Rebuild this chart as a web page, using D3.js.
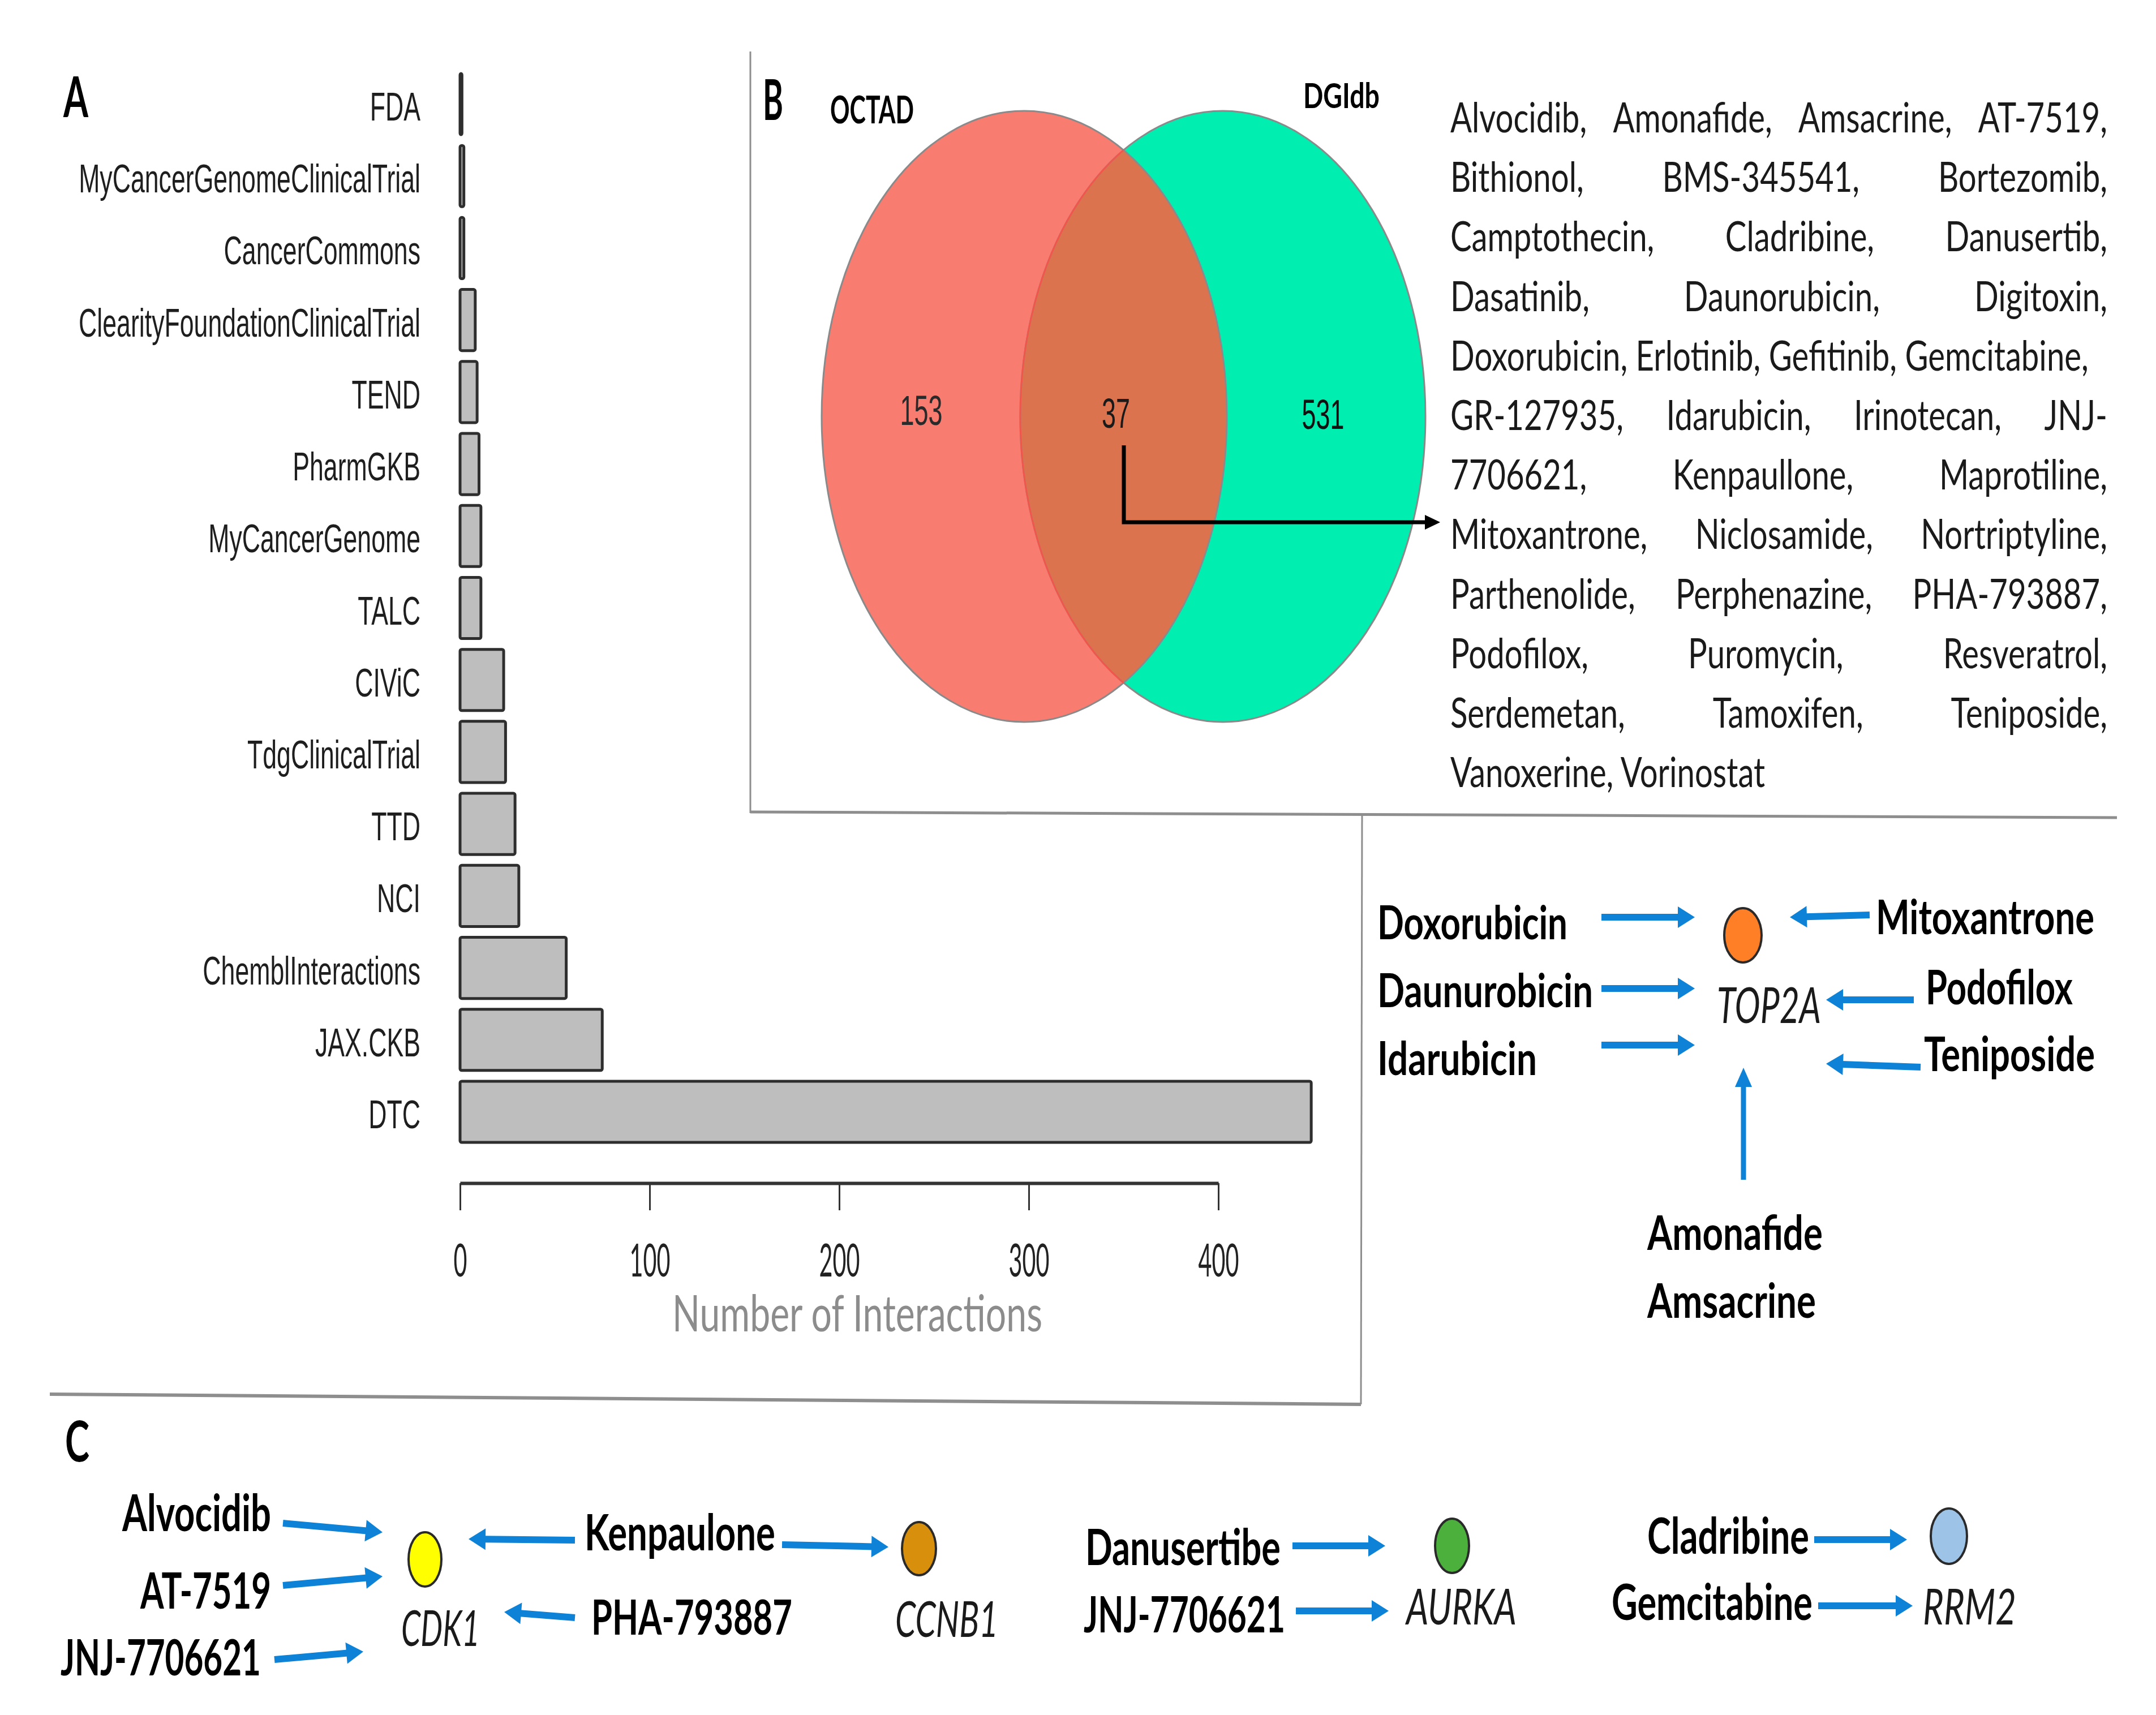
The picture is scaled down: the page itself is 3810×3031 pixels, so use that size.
<!DOCTYPE html>
<html><head><meta charset="utf-8">
<script src="https://cdn.jsdelivr.net/npm/d3@7"></script>
<style>html,body{margin:0;padding:0;background:#fff;} svg{display:block;}</style>
</head><body>
<script>
// ---------------- DATA ----------------
const sources = ["FDA","MyCancerGenomeClinicalTrial","CancerCommons","ClearityFoundationClinicalTrial","TEND","PharmGKB","MyCancerGenome","TALC","CIViC","TdgClinicalTrial","TTD","NCI","ChemblInteractions","JAX.CKB","DTC"];
const interactions = [1,2,2,8,9,10,11,11,23,24,29,31,56,75,449];
const xTicks = [0,100,200,300,400];
const axisTitle = "Number of Interactions";
const panelLetters = ["A","B","C"];
const vennSets = ["OCTAD","DGIdb"];
const vennCounts = [153,37,531]; // OCTAD only, both, DGIdb only
const sharedDrugLines = [
  "Alvocidib, Amonafide, Amsacrine, AT-7519,",
  "Bithionol, BMS-345541, Bortezomib,",
  "Camptothecin, Cladribine, Danusertib,",
  "Dasatinib, Daunorubicin, Digitoxin,",
  "Doxorubicin, Erlotinib, Gefitinib, Gemcitabine,",
  "GR-127935, Idarubicin, Irinotecan, JNJ-",
  "7706621, Kenpaullone, Maprotiline,",
  "Mitoxantrone, Niclosamide, Nortriptyline,",
  "Parthenolide, Perphenazine, PHA-793887,",
  "Podofilox, Puromycin, Resveratrol,",
  "Serdemetan, Tamoxifen, Teniposide,",
  "Vanoxerine, Vorinostat"
];
const genes = ["TOP2A","CDK1","CCNB1","AURKA","RRM2"];
const drugTargets = [
  ["Doxorubicin","TOP2A"],["Daunurobicin","TOP2A"],["Idarubicin","TOP2A"],
  ["Mitoxantrone","TOP2A"],["Podofilox","TOP2A"],["Teniposide","TOP2A"],
  ["Amonafide","TOP2A"],["Amsacrine","TOP2A"],
  ["Alvocidib","CDK1"],["AT-7519","CDK1"],["JNJ-7706621","CDK1"],
  ["Kenpaulone","CDK1"],["PHA-793887","CDK1"],["Kenpaulone","CCNB1"],
  ["Danusertibe","AURKA"],["JNJ-7706621","AURKA"],
  ["Cladribine","RRM2"],["Gemcitabine","RRM2"]
];

// ---------------- SETUP ----------------
const W = 3810, H = 3031;
const svg = d3.select("body").append("svg").attr("width", W).attr("height", H).attr("viewBox", `0 0 ${W} ${H}`);
svg.append("rect").attr("width", W).attr("height", H).attr("fill", "#fff");

const meas = svg.append("text").attr("x", -9999).attr("y", -9999);
function styleFont(sel, f) {
  return sel.style("font-family", f.family).style("font-size", f.size + "px")
    .style("font-weight", f.weight || "normal").style("font-style", f.style || "normal");
}
function measure(str, f) { styleFont(meas, f).text(str); return meas.node().getComputedTextLength(); }
function addText(g, str, x, y, f, o = {}) {
  let sx = o.sx || 1;
  if (o.width) sx = o.width / measure(str, f);
  const t = g.append("text").text(str)
    .attr("transform", `translate(${x},${y}) scale(${sx},1)`)
    .attr("text-anchor", o.anchor || "start")
    .attr("fill", o.fill || "#111");
  styleFont(t, f);
  return t;
}
const SANS = "'Liberation Sans', Arial, sans-serif";
const LATO = "Lato, 'Open Sans', sans-serif";

// ---------------- FRAME LINES ----------------
const frame = svg.append("g").attr("stroke", "#8e8e8e").attr("fill", "none");
frame.append("line").attr("x1", 1326).attr("y1", 91).attr("x2", 1326).attr("y2", 1437).attr("stroke-width", 3);
frame.append("line").attr("x1", 1326).attr("y1", 1435).attr("x2", 3741).attr("y2", 1445).attr("stroke-width", 5);
frame.append("line").attr("x1", 2407).attr("y1", 1437).attr("x2", 2405).attr("y2", 2482).attr("stroke-width", 3);
frame.append("line").attr("x1", 88).attr("y1", 2464).attr("x2", 2405).attr("y2", 2482).attr("stroke-width", 6);

// ---------------- PANEL LETTERS ----------------
const fLetter = { family: LATO, size: 100, weight: "bold" };
const letterPos = [[112, 207, 44], [1348, 212, 36], [115, 2583, 43]];
panelLetters.forEach((L, i) => addText(svg, L, letterPos[i][0], letterPos[i][1], fLetter, { width: letterPos[i][2], fill: "#000" }));

// ---------------- PANEL A : BAR CHART ----------------
const x = d3.scaleLinear().domain([0, 400]).range([813, 2153]);
const y = d3.scaleBand().domain(sources).range([120.4, 2028.6]).paddingInner(0.15).paddingOuter(0.075);
const gA = svg.append("g");
gA.selectAll("rect.bar").data(sources).join("rect").attr("class", "bar")
  .attr("x", x(0)).attr("y", d => y(d))
  .attr("width", (d, i) => x(interactions[i]) - x(0))
  .attr("height", y.bandwidth()).attr("rx", 3)
  .attr("fill", "#bebebe").attr("stroke", "#2e2e2e").attr("stroke-width", 5);

const fCat = { family: SANS, size: 71 };
const sxCat = 604 / measure("MyCancerGenomeClinicalTrial", fCat);
sources.forEach(d => addText(gA, d, 743, y(d) + y.bandwidth() / 2 + 29, fCat, { sx: sxCat, anchor: "end", fill: "#1e1e1e" }));

const axis = d3.axisBottom(x).tickValues(xTicks).tickSize(48).tickSizeOuter(0).tickFormat(d3.format("d"));
const gAx = svg.append("g").attr("transform", "translate(0,2091)").call(axis);
gAx.select(".domain").attr("stroke", "#333").attr("stroke-width", 6);
gAx.selectAll(".tick line").attr("stroke", "#333").attr("stroke-width", 3);
const fTick = { family: LATO, size: 82 };
const sxTick = 72 / measure("100", fTick);
gAx.selectAll(".tick text").attr("y", 0).attr("dy", 0)
  .attr("transform", `translate(0,165) scale(${sxTick},1)`).attr("fill", "#222")
  .style("font-family", LATO).style("font-size", "82px");
addText(svg, axisTitle, 1515, 2353, { family: LATO, size: 90 }, { width: 654, anchor: "middle", fill: "#8c8c8c" });

// ---------------- PANEL B : VENN ----------------
const gB = svg.append("g");
const vennGeo = [{ cx: 1810, cy: 736, rx: 358, ry: 540 }, { cx: 2161, cy: 736, rx: 358, ry: 540 }];
const vennFill = ["#F97C71", "#00EFB1"];
const interFill = "#DB744E";
svg.append("defs").append("clipPath").attr("id", "clipRed").append("ellipse")
  .attr("cx", vennGeo[0].cx).attr("cy", vennGeo[0].cy).attr("rx", vennGeo[0].rx).attr("ry", vennGeo[0].ry);
gB.selectAll("ellipse.set").data(vennSets).join("ellipse").attr("class", "set")
  .attr("cx", (d, i) => vennGeo[i].cx).attr("cy", (d, i) => vennGeo[i].cy)
  .attr("rx", (d, i) => vennGeo[i].rx).attr("ry", (d, i) => vennGeo[i].ry)
  .attr("fill", (d, i) => vennFill[i]);
gB.append("ellipse").attr("cx", vennGeo[1].cx).attr("cy", vennGeo[1].cy).attr("rx", vennGeo[1].rx).attr("ry", vennGeo[1].ry)
  .attr("clip-path", "url(#clipRed)").attr("fill", interFill);
gB.selectAll("ellipse.outline").data(vennSets).join("ellipse").attr("class", "outline")
  .attr("cx", (d, i) => vennGeo[i].cx).attr("cy", (d, i) => vennGeo[i].cy)
  .attr("rx", (d, i) => vennGeo[i].rx).attr("ry", (d, i) => vennGeo[i].ry)
  .attr("fill", "none").attr("stroke", "#8a8a8a").attr("stroke-width", 3);
gB.append("ellipse").attr("cx", vennGeo[1].cx).attr("cy", vennGeo[1].cy).attr("rx", vennGeo[1].rx).attr("ry", vennGeo[1].ry)
  .attr("clip-path", "url(#clipRed)").attr("fill", "none").attr("stroke", "#f2554a").attr("stroke-width", 3);

const fNum = { family: SANS, size: 74 };
const sxNum = 75 / measure("153", fNum);
const numPos = [[1628, 751, "#2a2a2a"], [1972, 756, "#1a1a1a"], [2338, 758, "#111"]];
vennCounts.forEach((c, i) => addText(gB, String(c), numPos[i][0], numPos[i][1], fNum, { sx: sxNum, anchor: "middle", fill: numPos[i][2] }));

const setLabelPos = [[1467, 218, 148, 67], [2303, 191, 135, 62]];
vennSets.forEach((s, i) => addText(gB, s, setLabelPos[i][0], setLabelPos[i][1], { family: LATO, size: setLabelPos[i][3], weight: "bold" }, { width: setLabelPos[i][2], fill: "#000" }));

gB.append("path").attr("d", "M1986,787V923H2522").attr("fill", "none").attr("stroke", "#000").attr("stroke-width", 7);
gB.append("path").attr("d", "M2545,923L2518,910L2518,936Z").attr("fill", "#000");

// shared drug list (justified)
const fList = { family: LATO, size: 74 };
const sxList = 1128 / measure(sharedDrugLines[4], fList);
const listLeft = 2563, listRight = 3724;
sharedDrugLines.forEach((line, i) => {
  const by = 234 + i * 105.2;
  const justify = !(i === 4 || i === sharedDrugLines.length - 1);
  if (!justify) { addText(gB, line, listLeft, by, fList, { sx: sxList, fill: "#1a1a1a" }); return; }
  const words = line.split(" ");
  const ws = words.map(w => measure(w, fList) * sxList);
  const gap = (listRight - listLeft - d3.sum(ws)) / (words.length - 1);
  let cx = listLeft;
  words.forEach((w, j) => { addText(gB, w, cx, by, fList, { sx: sxList, fill: "#1a1a1a" }); cx += ws[j] + gap; });
});

// ---------------- NETWORKS (TOP2A + PANEL C) ----------------
const arrowCol = "#0D82D6";
function arrow(g, a) {
  const [x1, y1, x2, y2] = a.c;
  const hl = a.hl || 30, hw = a.hw || 38, sw = a.sw || 12;
  const dx = x2 - x1, dy = y2 - y1, L = Math.hypot(dx, dy), ux = dx / L, uy = dy / L, px = -uy, py = ux;
  const bx = x2 - ux * hl, by = y2 - uy * hl;
  g.append("line").attr("x1", x1).attr("y1", y1).attr("x2", bx + ux * 2).attr("y2", by + uy * 2)
    .attr("stroke", arrowCol).attr("stroke-width", sw);
  g.append("path").attr("d", `M${x2},${y2}L${bx + px * hw / 2},${by + py * hw / 2}L${bx - px * hw / 2},${by - py * hw / 2}Z`).attr("fill", arrowCol);
}
// layout per edge: arrow coords and label placement
const edgeLayout = [
  { c: [2830, 1621, 2995, 1621], l: [2434, 1660, 336, "start", 82] },
  { c: [2830, 1747, 2995, 1747], l: [2434, 1780, 381, "start", 82] },
  { c: [2830, 1847, 2995, 1847], l: [2434, 1900, 282, "start", 82] },
  { c: [3304, 1617, 3163, 1621], l: [3315, 1651, 386, "start", 84] },
  { c: [3382, 1767, 3227, 1767], l: [3403, 1775, 260, "start", 84] },
  { c: [3394, 1886, 3227, 1880], l: [3400, 1893, 302, "start", 84] },
  { c: [3081, 2085, 3081, 1887], hl: 34, hw: 30, sw: 9, l: [2911, 2209, 310, "start", 85] },
  { c: null, l: [2911, 2329, 298, "start", 85] },
  { c: [500, 2692, 676, 2708], l: [479, 2706, 263, "end", 90] },
  { c: [500, 2802, 676, 2786], l: [479, 2843, 231, "end", 88] },
  { c: [485, 2933, 642, 2919], l: [107, 2961, 354, "start", 88] },
  { c: [1016, 2722, 828, 2720], l: [1033, 2740, 337, "start", 88] },
  { c: [1016, 2859, 891, 2849], l: [1045, 2889, 355, "start", 86] },
  { c: [1382, 2730, 1570, 2734], l: null },
  { c: [2284, 2732, 2448, 2732], l: [1918, 2766, 345, "start", 88] },
  { c: [2290, 2847, 2454, 2847], l: [1915, 2885, 356, "start", 88] },
  { c: [3206, 2721, 3370, 2721], l: [2911, 2746, 286, "start", 88] },
  { c: [3213, 2838, 3380, 2838], l: [2848, 2863, 355, "start", 88] }
];
const geneLayout = {
  TOP2A: { cx: 3080, cy: 1653, rx: 33, ry: 48, fill: "#FF7F27", lx: 3034, ly: 1808, lw: 184 },
  CDK1:  { cx: 751, cy: 2756, rx: 29, ry: 48, fill: "#FFFF00", lx: 709, ly: 2909, lw: 139 },
  CCNB1: { cx: 1624, cy: 2737, rx: 30, ry: 47, fill: "#D8900C", lx: 1582, ly: 2893, lw: 182 },
  AURKA: { cx: 2566, cy: 2732, rx: 30, ry: 48, fill: "#4CB03C", lx: 2485, ly: 2871, lw: 195 },
  RRM2:  { cx: 3444, cy: 2715, rx: 32, ry: 49, fill: "#9DC3E6", lx: 3398, ly: 2871, lw: 165 }
};
const gN = svg.append("g");
drugTargets.forEach((e, i) => {
  const lay = edgeLayout[i];
  if (lay.c) arrow(gN, lay);
  if (lay.l) addText(gN, e[0], lay.l[0], lay.l[1], { family: LATO, size: lay.l[4], weight: "bold" }, { width: lay.l[2], anchor: lay.l[3], fill: "#000" });
});
genes.forEach(gname => {
  const L = geneLayout[gname];
  gN.append("ellipse").attr("cx", L.cx).attr("cy", L.cy).attr("rx", L.rx).attr("ry", L.ry)
    .attr("fill", L.fill).attr("stroke", "#2a2a2a").attr("stroke-width", 4);
  addText(gN, gname, L.lx, L.ly, { family: LATO, size: 88, style: "italic" }, { width: L.lw, fill: "#1a1a1a" });
});

meas.remove();
</script>
</body></html>
